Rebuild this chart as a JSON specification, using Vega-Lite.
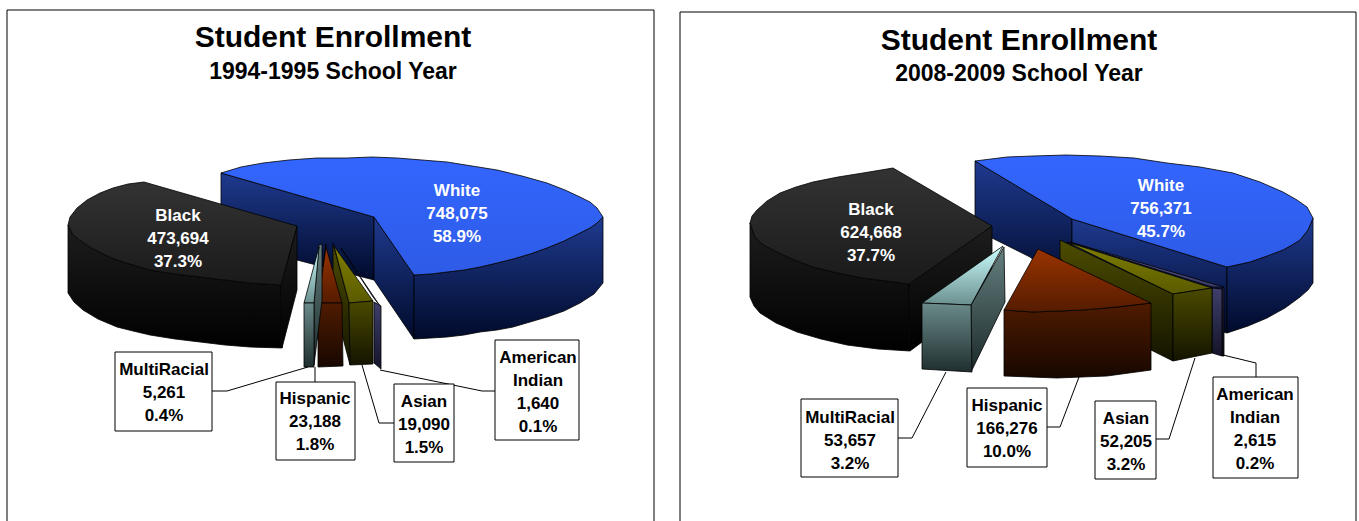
{"$schema":"https://vega.github.io/schema/vega-lite/v6.json","background":"white","padding":{"left":5,"top":8,"right":0,"bottom":0},"spacing":22,
"config":{"view":{"stroke":null},
"style":{
"shape":{"interpolate":"linear-closed","strokeWidth":0.8},
"whiteTop":{"fill":{"gradient":"linear","x1":0,"y1":0,"x2":0,"y2":1,"stops":[{"offset":0,"color":"#3366ff"},{"offset":1,"color":"#2e5be6"}]}},
"whiteSide":{"fill":{"gradient":"linear","x1":0,"y1":0,"x2":0,"y2":1,"stops":[{"offset":0,"color":"#1f3a8f"},{"offset":1,"color":"#000a2a"}]}},
"blackTop":{"fill":{"gradient":"linear","x1":0,"y1":0,"x2":0,"y2":1,"stops":[{"offset":0,"color":"#333333"},{"offset":1,"color":"#1a1a1a"}]}},
"blackSide":{"fill":{"gradient":"linear","x1":0,"y1":0,"x2":0,"y2":1,"stops":[{"offset":0,"color":"#1d1d1d"},{"offset":1,"color":"#000000"}]}},
"multiTop":{"fill":{"gradient":"linear","x1":0,"y1":0,"x2":0,"y2":1,"stops":[{"offset":0,"color":"#ccffff"},{"offset":1,"color":"#6b8f8f"}]}},
"multiSide":{"fill":{"gradient":"linear","x1":0,"y1":0,"x2":0,"y2":1,"stops":[{"offset":0,"color":"#668080"},{"offset":1,"color":"#1c2a2a"}]}},
"multiFront":{"fill":{"gradient":"linear","x1":0,"y1":0,"x2":0,"y2":1,"stops":[{"offset":0,"color":"#6b8a8a"},{"offset":1,"color":"#1f2e2e"}]}},
"hispanicTop":{"fill":{"gradient":"linear","x1":0,"y1":0,"x2":0,"y2":1,"stops":[{"offset":0,"color":"#993300"},{"offset":1,"color":"#551c00"}]}},
"hispanicBack":{"fill":{"gradient":"linear","x1":0,"y1":0,"x2":0,"y2":1,"stops":[{"offset":0,"color":"#4d1a00"},{"offset":1,"color":"#1a0800"}]}},
"hispanicFront":{"fill":{"gradient":"linear","x1":0,"y1":0,"x2":0,"y2":1,"stops":[{"offset":0,"color":"#4f1b00"},{"offset":1,"color":"#170700"}]}},
"asianTop":{"fill":{"gradient":"linear","x1":0,"y1":0,"x2":0,"y2":1,"stops":[{"offset":0,"color":"#808000"},{"offset":1,"color":"#5a5a00"}]}},
"asianSide":{"fill":{"gradient":"linear","x1":0,"y1":0,"x2":0,"y2":1,"stops":[{"offset":0,"color":"#4d4d00"},{"offset":1,"color":"#141400"}]}},
"asianFront":{"fill":{"gradient":"linear","x1":0,"y1":0,"x2":0,"y2":1,"stops":[{"offset":0,"color":"#4a4a00"},{"offset":1,"color":"#141400"}]}},
"indianTop":{"fill":{"gradient":"linear","x1":0,"y1":0,"x2":0,"y2":1,"stops":[{"offset":0,"color":"#5a5a99"},{"offset":1,"color":"#3a3a66"}]}},
"indianBack":{"fill":{"gradient":"linear","x1":0,"y1":0,"x2":0,"y2":1,"stops":[{"offset":0,"color":"#2a2a50"},{"offset":1,"color":"#10101f"}]}},
"indianFront":{"fill":{"gradient":"linear","x1":0,"y1":0,"x2":0,"y2":1,"stops":[{"offset":0,"color":"#3f3f6b"},{"offset":1,"color":"#14142a"}]}}
}},
"datasets":{
"labels":[
{"year":"1994-1995","race":"White","count":748075,"share":58.9,"placement":"pie","x":457,"y":190},
{"year":"1994-1995","race":"Black","count":473694,"share":37.3,"placement":"pie","x":178,"y":215},
{"year":"1994-1995","race":"MultiRacial","count":5261,"share":0.4,"placement":"callout","x":164,"y":369},
{"year":"1994-1995","race":"Hispanic","count":23188,"share":1.8,"placement":"callout","x":315,"y":398},
{"year":"1994-1995","race":"Asian","count":19090,"share":1.5,"placement":"callout","x":424,"y":401},
{"year":"1994-1995","race":"American Indian","count":1640,"share":0.1,"placement":"callout","x":538,"y":357},
{"year":"2008-2009","race":"White","count":756371,"share":45.7,"placement":"pie","x":1161,"y":185},
{"year":"2008-2009","race":"Black","count":624668,"share":37.7,"placement":"pie","x":871,"y":209},
{"year":"2008-2009","race":"MultiRacial","count":53657,"share":3.2,"placement":"callout","x":850,"y":417},
{"year":"2008-2009","race":"Hispanic","count":166276,"share":10.0,"placement":"callout","x":1007,"y":405},
{"year":"2008-2009","race":"Asian","count":52205,"share":3.2,"placement":"callout","x":1126,"y":418},
{"year":"2008-2009","race":"American Indian","count":2615,"share":0.2,"placement":"callout","x":1255,"y":394}],
"boxes":[
{"year":"1994-1995","race":"MultiRacial","x":115,"x2":212,"y":352,"y2":431},
{"year":"1994-1995","race":"Hispanic","x":276,"x2":355,"y":382,"y2":460},
{"year":"1994-1995","race":"Asian","x":394,"x2":454,"y":384,"y2":462},
{"year":"1994-1995","race":"American Indian","x":495,"x2":579,"y":340,"y2":440},
{"year":"2008-2009","race":"MultiRacial","x":801,"x2":898,"y":399,"y2":477},
{"year":"2008-2009","race":"Hispanic","x":967,"x2":1047,"y":388,"y2":467},
{"year":"2008-2009","race":"Asian","x":1095,"x2":1156,"y":401,"y2":479},
{"year":"2008-2009","race":"American Indian","x":1213,"x2":1298,"y":377,"y2":478}],
"titles":[
{"year":"1994-1995","text":"Student Enrollment","level":"title","x":333,"y":38},
{"year":"1994-1995","text":"1994-1995 School Year","level":"subtitle","x":333,"y":72},
{"year":"2008-2009","text":"Student Enrollment","level":"title","x":1019,"y":41},
{"year":"2008-2009","text":"2008-2009 School Year","level":"subtitle","x":1019,"y":74}],
"lines":[
{"year":"1994-1995","line":"frame","i":0,"x":7,"y":521},{"year":"1994-1995","line":"frame","i":1,"x":7,"y":10},{"year":"1994-1995","line":"frame","i":2,"x":654,"y":10},{"year":"1994-1995","line":"frame","i":3,"x":654,"y":521},
{"year":"1994-1995","line":"MultiRacial","i":0,"x":212,"y":391},{"year":"1994-1995","line":"MultiRacial","i":1,"x":227,"y":391},{"year":"1994-1995","line":"MultiRacial","i":2,"x":308,"y":367},
{"year":"1994-1995","line":"Hispanic","i":0,"x":315,"y":382},{"year":"1994-1995","line":"Hispanic","i":1,"x":315,"y":367},
{"year":"1994-1995","line":"Asian","i":0,"x":394,"y":423},{"year":"1994-1995","line":"Asian","i":1,"x":379,"y":423},{"year":"1994-1995","line":"Asian","i":2,"x":362,"y":365},
{"year":"1994-1995","line":"American Indian","i":0,"x":495,"y":391},{"year":"1994-1995","line":"American Indian","i":1,"x":482,"y":391},{"year":"1994-1995","line":"American Indian","i":2,"x":380,"y":370},
{"year":"2008-2009","line":"frame","i":0,"x":680,"y":521},{"year":"2008-2009","line":"frame","i":1,"x":680,"y":12},{"year":"2008-2009","line":"frame","i":2,"x":1356,"y":12},{"year":"2008-2009","line":"frame","i":3,"x":1356,"y":521},
{"year":"2008-2009","line":"MultiRacial","i":0,"x":898,"y":438},{"year":"2008-2009","line":"MultiRacial","i":1,"x":912,"y":438},{"year":"2008-2009","line":"MultiRacial","i":2,"x":946,"y":372},
{"year":"2008-2009","line":"Hispanic","i":0,"x":1047,"y":427},{"year":"2008-2009","line":"Hispanic","i":1,"x":1060,"y":427},{"year":"2008-2009","line":"Hispanic","i":2,"x":1079,"y":377},
{"year":"2008-2009","line":"Asian","i":0,"x":1156,"y":439},{"year":"2008-2009","line":"Asian","i":1,"x":1169,"y":439},{"year":"2008-2009","line":"Asian","i":2,"x":1195,"y":358},
{"year":"2008-2009","line":"American Indian","i":0,"x":1256,"y":377},{"year":"2008-2009","line":"American Indian","i":1,"x":1256,"y":363},{"year":"2008-2009","line":"American Indian","i":2,"x":1223,"y":355}],
"shapes1":[
{"piece":"w1","face":"White side","i":0,"x":221,"y":173},{"piece":"w1","face":"White side","i":1,"x":374,"y":217},{"piece":"w1","face":"White side","i":2,"x":374,"y":280},{"piece":"w1","face":"White side","i":3,"x":297,"y":260},{"piece":"w1","face":"White side","i":4,"x":221,"y":240},
{"piece":"w2","face":"White side","i":0,"x":374,"y":217},{"piece":"w2","face":"White side","i":1,"x":414,"y":275},{"piece":"w2","face":"White side","i":2,"x":414,"y":339},{"piece":"w2","face":"White side","i":3,"x":374,"y":280},
{"piece":"w3","face":"White side","i":0,"x":414,"y":275},{"piece":"w3","face":"White side","i":1,"x":447,"y":272},{"piece":"w3","face":"White side","i":2,"x":480,"y":267},{"piece":"w3","face":"White side","i":3,"x":513,"y":259},{"piece":"w3","face":"White side","i":4,"x":547,"y":248},{"piece":"w3","face":"White side","i":5,"x":580,"y":233},{"piece":"w3","face":"White side","i":6,"x":597,"y":223},{"piece":"w3","face":"White side","i":7,"x":603,"y":217},{"piece":"w3","face":"White side","i":8,"x":603,"y":283},{"piece":"w3","face":"White side","i":9,"x":580,"y":303},{"piece":"w3","face":"White side","i":10,"x":547,"y":317},{"piece":"w3","face":"White side","i":11,"x":513,"y":327},{"piece":"w3","face":"White side","i":12,"x":480,"y":332},{"piece":"w3","face":"White side","i":13,"x":447,"y":337},{"piece":"w3","face":"White side","i":14,"x":414,"y":339},
{"piece":"w3","face":"White side","i":0.5,"x":431,"y":274},{"piece":"w3","face":"White side","i":1.5,"x":464,"y":270},{"piece":"w3","face":"White side","i":2.5,"x":497,"y":263},{"piece":"w3","face":"White side","i":3.5,"x":530,"y":254},{"piece":"w3","face":"White side","i":4.5,"x":564,"y":241},{"piece":"w3","face":"White side","i":5.5,"x":590,"y":228},{"piece":"w3","face":"White side","i":8.5,"x":594,"y":294},{"piece":"w3","face":"White side","i":9.5,"x":564,"y":311},{"piece":"w3","face":"White side","i":10.5,"x":530,"y":322},{"piece":"w3","face":"White side","i":11.5,"x":497,"y":330},{"piece":"w3","face":"White side","i":12.5,"x":464,"y":335},{"piece":"w3","face":"White side","i":13.5,"x":431,"y":338},
{"piece":"w4","face":"White top","i":0,"x":221,"y":173},{"piece":"w4","face":"White top","i":1,"x":263,"y":163},{"piece":"w4","face":"White top","i":2,"x":317,"y":158},{"piece":"w4","face":"White top","i":3,"x":347,"y":158},{"piece":"w4","face":"White top","i":4,"x":397,"y":158},{"piece":"w4","face":"White top","i":5,"x":447,"y":162},{"piece":"w4","face":"White top","i":6,"x":497,"y":170},{"piece":"w4","face":"White top","i":7,"x":547,"y":183},{"piece":"w4","face":"White top","i":8,"x":580,"y":197},{"piece":"w4","face":"White top","i":9,"x":597,"y":208},{"piece":"w4","face":"White top","i":10,"x":603,"y":217},{"piece":"w4","face":"White top","i":11,"x":597,"y":223},{"piece":"w4","face":"White top","i":12,"x":580,"y":233},{"piece":"w4","face":"White top","i":13,"x":547,"y":248},{"piece":"w4","face":"White top","i":14,"x":513,"y":259},{"piece":"w4","face":"White top","i":15,"x":480,"y":267},{"piece":"w4","face":"White top","i":16,"x":447,"y":272},{"piece":"w4","face":"White top","i":17,"x":414,"y":275},{"piece":"w4","face":"White top","i":18,"x":374,"y":217},
{"piece":"w4","face":"White top","i":0.5,"x":241,"y":167},{"piece":"w4","face":"White top","i":1.5,"x":289,"y":160},{"piece":"w4","face":"White top","i":3.5,"x":372,"y":157},{"piece":"w4","face":"White top","i":4.5,"x":422,"y":160},{"piece":"w4","face":"White top","i":5.5,"x":472,"y":166},{"piece":"w4","face":"White top","i":6.5,"x":522,"y":176},{"piece":"w4","face":"White top","i":7.5,"x":565,"y":190},{"piece":"w4","face":"White top","i":8.5,"x":590,"y":202},{"piece":"w4","face":"White top","i":11.5,"x":590,"y":228},{"piece":"w4","face":"White top","i":12.5,"x":564,"y":241},{"piece":"w4","face":"White top","i":13.5,"x":530,"y":254},{"piece":"w4","face":"White top","i":14.5,"x":497,"y":263},{"piece":"w4","face":"White top","i":15.5,"x":464,"y":270},{"piece":"w4","face":"White top","i":16.5,"x":431,"y":274},
{"piece":"b1","face":"Black side","i":0,"x":281,"y":285},{"piece":"b1","face":"Black side","i":1,"x":250,"y":283},{"piece":"b1","face":"Black side","i":2,"x":200,"y":277},{"piece":"b1","face":"Black side","i":3,"x":150,"y":270},{"piece":"b1","face":"Black side","i":4,"x":117,"y":260},{"piece":"b1","face":"Black side","i":5,"x":90,"y":247},{"piece":"b1","face":"Black side","i":6,"x":73,"y":235},{"piece":"b1","face":"Black side","i":7,"x":68,"y":225},{"piece":"b1","face":"Black side","i":8,"x":68,"y":293},{"piece":"b1","face":"Black side","i":9,"x":83,"y":310},{"piece":"b1","face":"Black side","i":10,"x":117,"y":327},{"piece":"b1","face":"Black side","i":11,"x":150,"y":335},{"piece":"b1","face":"Black side","i":12,"x":200,"y":342},{"piece":"b1","face":"Black side","i":13,"x":250,"y":347},{"piece":"b1","face":"Black side","i":14,"x":282,"y":348},
{"piece":"b1","face":"Black side","i":1.5,"x":225,"y":280},{"piece":"b1","face":"Black side","i":2.5,"x":175,"y":274},{"piece":"b1","face":"Black side","i":3.5,"x":133,"y":265},{"piece":"b1","face":"Black side","i":4.5,"x":103,"y":254},{"piece":"b1","face":"Black side","i":5.5,"x":81,"y":241},{"piece":"b1","face":"Black side","i":8.5,"x":74,"y":302},{"piece":"b1","face":"Black side","i":9.5,"x":98,"y":319},{"piece":"b1","face":"Black side","i":10.5,"x":133,"y":331},{"piece":"b1","face":"Black side","i":11.5,"x":175,"y":339},{"piece":"b1","face":"Black side","i":12.5,"x":225,"y":345},
{"piece":"b2","face":"Black side","i":0,"x":297,"y":226},{"piece":"b2","face":"Black side","i":1,"x":281,"y":285},{"piece":"b2","face":"Black side","i":2,"x":282,"y":348},{"piece":"b2","face":"Black side","i":3,"x":297,"y":290},
{"piece":"b3","face":"Black top","i":0,"x":144,"y":182},{"piece":"b3","face":"Black top","i":1,"x":297,"y":226},{"piece":"b3","face":"Black top","i":2,"x":281,"y":285},{"piece":"b3","face":"Black top","i":3,"x":250,"y":283},{"piece":"b3","face":"Black top","i":4,"x":200,"y":277},{"piece":"b3","face":"Black top","i":5,"x":150,"y":270},{"piece":"b3","face":"Black top","i":6,"x":117,"y":260},{"piece":"b3","face":"Black top","i":7,"x":90,"y":247},{"piece":"b3","face":"Black top","i":8,"x":73,"y":235},{"piece":"b3","face":"Black top","i":9,"x":68,"y":225},{"piece":"b3","face":"Black top","i":10,"x":70,"y":217},{"piece":"b3","face":"Black top","i":11,"x":87,"y":200},{"piece":"b3","face":"Black top","i":12,"x":113,"y":188},
{"piece":"b3","face":"Black top","i":3.5,"x":225,"y":280},{"piece":"b3","face":"Black top","i":4.5,"x":175,"y":274},{"piece":"b3","face":"Black top","i":5.5,"x":133,"y":265},{"piece":"b3","face":"Black top","i":6.5,"x":103,"y":254},{"piece":"b3","face":"Black top","i":7.5,"x":81,"y":241},{"piece":"b3","face":"Black top","i":10.5,"x":77,"y":208},{"piece":"b3","face":"Black top","i":11.5,"x":100,"y":193},{"piece":"b3","face":"Black top","i":12.5,"x":128,"y":184},
{"piece":"a1","face":"American Indian top","i":0,"x":341,"y":248},{"piece":"a1","face":"American Indian top","i":1,"x":373,"y":297},{"piece":"a1","face":"American Indian top","i":2,"x":380,"y":306},
{"piece":"a2","face":"American Indian front","i":0,"x":374,"y":302},{"piece":"a2","face":"American Indian front","i":1,"x":381,"y":306},{"piece":"a2","face":"American Indian front","i":2,"x":381,"y":369},{"piece":"a2","face":"American Indian front","i":3,"x":374,"y":363},
{"piece":"s1","face":"Asian side","i":0,"x":333,"y":243},{"piece":"s1","face":"Asian side","i":1,"x":349,"y":303},{"piece":"s1","face":"Asian side","i":2,"x":350,"y":365},{"piece":"s1","face":"Asian side","i":3,"x":333,"y":300},
{"piece":"s2","face":"Asian top","i":0,"x":334,"y":246},{"piece":"s2","face":"Asian top","i":1,"x":349,"y":303},{"piece":"s2","face":"Asian top","i":2,"x":373,"y":301},
{"piece":"s3","face":"Asian front","i":0,"x":349,"y":303},{"piece":"s3","face":"Asian front","i":1,"x":373,"y":301},{"piece":"s3","face":"Asian front","i":2,"x":373,"y":364},{"piece":"s3","face":"Asian front","i":3,"x":350,"y":365},
{"piece":"h1","face":"Hispanic back","i":0,"x":326,"y":244},{"piece":"h1","face":"Hispanic back","i":1,"x":318,"y":303},{"piece":"h1","face":"Hispanic back","i":2,"x":318,"y":340},
{"piece":"h2","face":"Hispanic top","i":0,"x":326,"y":247},{"piece":"h2","face":"Hispanic top","i":1,"x":318,"y":303},{"piece":"h2","face":"Hispanic top","i":2,"x":342,"y":303},
{"piece":"h3","face":"Hispanic front","i":0,"x":318,"y":303},{"piece":"h3","face":"Hispanic front","i":1,"x":342,"y":303},{"piece":"h3","face":"Hispanic front","i":2,"x":343,"y":366},{"piece":"h3","face":"Hispanic front","i":3,"x":318,"y":367},
{"piece":"m1","face":"MultiRacial side","i":0,"x":319,"y":245},{"piece":"m1","face":"MultiRacial side","i":1,"x":322,"y":244},{"piece":"m1","face":"MultiRacial side","i":2,"x":322,"y":300},{"piece":"m1","face":"MultiRacial side","i":3,"x":314,"y":365},{"piece":"m1","face":"MultiRacial side","i":4,"x":314,"y":303},
{"piece":"m2","face":"MultiRacial top","i":0,"x":319,"y":247},{"piece":"m2","face":"MultiRacial top","i":1,"x":304,"y":303},{"piece":"m2","face":"MultiRacial top","i":2,"x":314,"y":303},
{"piece":"m3","face":"MultiRacial front","i":0,"x":304,"y":303},{"piece":"m3","face":"MultiRacial front","i":1,"x":314,"y":303},{"piece":"m3","face":"MultiRacial front","i":2,"x":314,"y":367},{"piece":"m3","face":"MultiRacial front","i":3,"x":304,"y":367}],
"shapes2":[
{"piece":"w1","face":"White side","i":0,"x":975,"y":161},{"piece":"w1","face":"White side","i":1,"x":1072,"y":219},{"piece":"w1","face":"White side","i":2,"x":1072,"y":290},{"piece":"w1","face":"White side","i":3,"x":1030,"y":257},{"piece":"w1","face":"White side","i":4,"x":992,"y":238},{"piece":"w1","face":"White side","i":5,"x":975,"y":218},
{"piece":"w2","face":"White side","i":0,"x":1072,"y":219},{"piece":"w2","face":"White side","i":1,"x":1227,"y":267},{"piece":"w2","face":"White side","i":2,"x":1227,"y":333},{"piece":"w2","face":"White side","i":3,"x":1072,"y":290},
{"piece":"w3","face":"White side","i":0,"x":1227,"y":267},{"piece":"w3","face":"White side","i":1,"x":1250,"y":262},{"piece":"w3","face":"White side","i":2,"x":1283,"y":250},{"piece":"w3","face":"White side","i":3,"x":1300,"y":240},{"piece":"w3","face":"White side","i":4,"x":1313,"y":218},{"piece":"w3","face":"White side","i":5,"x":1313,"y":283},{"piece":"w3","face":"White side","i":6,"x":1300,"y":297},{"piece":"w3","face":"White side","i":7,"x":1267,"y":318},{"piece":"w3","face":"White side","i":8,"x":1227,"y":333},
{"piece":"w3","face":"White side","i":1.5,"x":1267,"y":256},{"piece":"w3","face":"White side","i":2.5,"x":1292,"y":245},{"piece":"w3","face":"White side","i":3.5,"x":1308,"y":230},{"piece":"w3","face":"White side","i":5.5,"x":1308,"y":290},{"piece":"w3","face":"White side","i":6.5,"x":1285,"y":308},{"piece":"w3","face":"White side","i":7.5,"x":1248,"y":326},
{"piece":"w4","face":"White top","i":0,"x":975,"y":161},{"piece":"w4","face":"White top","i":1,"x":1007,"y":157},{"piece":"w4","face":"White top","i":2,"x":1033,"y":156},{"piece":"w4","face":"White top","i":3,"x":1100,"y":156},{"piece":"w4","face":"White top","i":4,"x":1167,"y":163},{"piece":"w4","face":"White top","i":5,"x":1233,"y":173},{"piece":"w4","face":"White top","i":6,"x":1283,"y":192},{"piece":"w4","face":"White top","i":7,"x":1307,"y":207},{"piece":"w4","face":"White top","i":8,"x":1313,"y":218},{"piece":"w4","face":"White top","i":9,"x":1300,"y":240},{"piece":"w4","face":"White top","i":10,"x":1283,"y":250},{"piece":"w4","face":"White top","i":11,"x":1250,"y":262},{"piece":"w4","face":"White top","i":12,"x":1227,"y":267},{"piece":"w4","face":"White top","i":13,"x":1072,"y":219},
{"piece":"w4","face":"White top","i":2.5,"x":1066,"y":155},{"piece":"w4","face":"White top","i":3.5,"x":1134,"y":158},{"piece":"w4","face":"White top","i":4.5,"x":1200,"y":167},{"piece":"w4","face":"White top","i":5.5,"x":1260,"y":182},{"piece":"w4","face":"White top","i":6.5,"x":1297,"y":200},{"piece":"w4","face":"White top","i":8.5,"x":1308,"y":230},{"piece":"w4","face":"White top","i":9.5,"x":1292,"y":245},{"piece":"w4","face":"White top","i":10.5,"x":1267,"y":256},
{"piece":"b1","face":"Black side","i":0,"x":909,"y":284},{"piece":"b1","face":"Black side","i":1,"x":863,"y":278},{"piece":"b1","face":"Black side","i":2,"x":813,"y":267},{"piece":"b1","face":"Black side","i":3,"x":773,"y":250},{"piece":"b1","face":"Black side","i":4,"x":755,"y":237},{"piece":"b1","face":"Black side","i":5,"x":750,"y":223},{"piece":"b1","face":"Black side","i":6,"x":750,"y":297},{"piece":"b1","face":"Black side","i":7,"x":760,"y":313},{"piece":"b1","face":"Black side","i":8,"x":797,"y":332},{"piece":"b1","face":"Black side","i":9,"x":847,"y":345},{"piece":"b1","face":"Black side","i":10,"x":910,"y":351},
{"piece":"b1","face":"Black side","i":0.5,"x":886,"y":281},{"piece":"b1","face":"Black side","i":1.5,"x":838,"y":273},{"piece":"b1","face":"Black side","i":2.5,"x":792,"y":259},{"piece":"b1","face":"Black side","i":3.5,"x":762,"y":244},{"piece":"b1","face":"Black side","i":6.5,"x":754,"y":306},{"piece":"b1","face":"Black side","i":7.5,"x":776,"y":323},{"piece":"b1","face":"Black side","i":8.5,"x":821,"y":339},{"piece":"b1","face":"Black side","i":9.5,"x":878,"y":349},
{"piece":"b2","face":"Black side","i":0,"x":992,"y":226},{"piece":"b2","face":"Black side","i":1,"x":909,"y":284},{"piece":"b2","face":"Black side","i":2,"x":910,"y":351},{"piece":"b2","face":"Black side","i":3,"x":992,"y":290},
{"piece":"b3","face":"Black top","i":0,"x":893,"y":168},{"piece":"b3","face":"Black top","i":1,"x":992,"y":226},{"piece":"b3","face":"Black top","i":2,"x":909,"y":284},{"piece":"b3","face":"Black top","i":3,"x":863,"y":278},{"piece":"b3","face":"Black top","i":4,"x":813,"y":267},{"piece":"b3","face":"Black top","i":5,"x":773,"y":250},{"piece":"b3","face":"Black top","i":6,"x":755,"y":237},{"piece":"b3","face":"Black top","i":7,"x":750,"y":223},{"piece":"b3","face":"Black top","i":8,"x":757,"y":210},{"piece":"b3","face":"Black top","i":9,"x":780,"y":193},{"piece":"b3","face":"Black top","i":10,"x":813,"y":182},{"piece":"b3","face":"Black top","i":11,"x":863,"y":173},
{"piece":"b3","face":"Black top","i":2.5,"x":886,"y":281},{"piece":"b3","face":"Black top","i":3.5,"x":838,"y":273},{"piece":"b3","face":"Black top","i":4.5,"x":792,"y":259},{"piece":"b3","face":"Black top","i":5.5,"x":762,"y":244},{"piece":"b3","face":"Black top","i":7.5,"x":752,"y":216},{"piece":"b3","face":"Black top","i":8.5,"x":767,"y":201},{"piece":"b3","face":"Black top","i":9.5,"x":796,"y":187},{"piece":"b3","face":"Black top","i":10.5,"x":838,"y":177},
{"piece":"a1","face":"American Indian top","i":0,"x":1070,"y":242},{"piece":"a1","face":"American Indian top","i":1,"x":1212,"y":287},{"piece":"a1","face":"American Indian top","i":2,"x":1224,"y":287},
{"piece":"a2","face":"American Indian back","i":0,"x":1222,"y":289},{"piece":"a2","face":"American Indian back","i":1,"x":1224,"y":287},{"piece":"a2","face":"American Indian back","i":2,"x":1224,"y":356},{"piece":"a2","face":"American Indian back","i":3,"x":1222,"y":356},
{"piece":"a3","face":"American Indian front","i":0,"x":1212,"y":288},{"piece":"a3","face":"American Indian front","i":1,"x":1222,"y":289},{"piece":"a3","face":"American Indian front","i":2,"x":1222,"y":356},{"piece":"a3","face":"American Indian front","i":3,"x":1212,"y":353},
{"piece":"s1","face":"Asian side","i":0,"x":1060,"y":240},{"piece":"s1","face":"Asian side","i":1,"x":1173,"y":294},{"piece":"s1","face":"Asian side","i":2,"x":1173,"y":361},{"piece":"s1","face":"Asian side","i":3,"x":1151,"y":350},{"piece":"s1","face":"Asian side","i":4,"x":1060,"y":258},
{"piece":"s2","face":"Asian top","i":0,"x":1067,"y":242},{"piece":"s2","face":"Asian top","i":1,"x":1173,"y":294},{"piece":"s2","face":"Asian top","i":2,"x":1212,"y":288},
{"piece":"s3","face":"Asian front","i":0,"x":1173,"y":294},{"piece":"s3","face":"Asian front","i":1,"x":1212,"y":288},{"piece":"s3","face":"Asian front","i":2,"x":1212,"y":353},{"piece":"s3","face":"Asian front","i":3,"x":1173,"y":361},
{"piece":"h1","face":"Hispanic front","i":0,"x":1004,"y":310},{"piece":"h1","face":"Hispanic front","i":1,"x":1033,"y":312},{"piece":"h1","face":"Hispanic front","i":2,"x":1083,"y":310},{"piece":"h1","face":"Hispanic front","i":3,"x":1117,"y":307},{"piece":"h1","face":"Hispanic front","i":4,"x":1151,"y":303},{"piece":"h1","face":"Hispanic front","i":5,"x":1151,"y":370},{"piece":"h1","face":"Hispanic front","i":6,"x":1107,"y":376},{"piece":"h1","face":"Hispanic front","i":7,"x":1057,"y":378},{"piece":"h1","face":"Hispanic front","i":8,"x":1004,"y":376},
{"piece":"h2","face":"Hispanic top","i":0,"x":1038,"y":249},{"piece":"h2","face":"Hispanic top","i":1,"x":1151,"y":303},{"piece":"h2","face":"Hispanic top","i":2,"x":1117,"y":307},{"piece":"h2","face":"Hispanic top","i":3,"x":1083,"y":310},{"piece":"h2","face":"Hispanic top","i":4,"x":1033,"y":312},{"piece":"h2","face":"Hispanic top","i":5,"x":1004,"y":310},
{"piece":"m1","face":"MultiRacial side","i":0,"x":1004,"y":247},{"piece":"m1","face":"MultiRacial side","i":1,"x":971,"y":305},{"piece":"m1","face":"MultiRacial side","i":2,"x":971,"y":372},{"piece":"m1","face":"MultiRacial side","i":3,"x":1005,"y":302},
{"piece":"m2","face":"MultiRacial top","i":0,"x":1003,"y":246},{"piece":"m2","face":"MultiRacial top","i":1,"x":922,"y":303},{"piece":"m2","face":"MultiRacial top","i":2,"x":971,"y":305},
{"piece":"m3","face":"MultiRacial front","i":0,"x":922,"y":303},{"piece":"m3","face":"MultiRacial front","i":1,"x":971,"y":305},{"piece":"m3","face":"MultiRacial front","i":2,"x":972,"y":372},{"piece":"m3","face":"MultiRacial front","i":3,"x":922,"y":369}]
},
"hconcat":[
{"width":647,"height":511,
"encoding":{"x":{"field":"x","type":"quantitative","scale":{"domain":[7,654]},"axis":null},"y":{"field":"y","type":"quantitative","scale":{"domain":[521,10]},"axis":null},"detail":{"field":"piece"},"order":{"field":"i","type":"quantitative"}},
"layer":[
{"data":{"name":"shapes1"},"transform":[{"filter":"datum.face==='White side'"}],"mark":{"type":"line","stroke":"#000000","style":["shape","whiteSide"]}},
{"data":{"name":"shapes1"},"transform":[{"filter":"datum.face==='White top'"}],"mark":{"type":"line","stroke":"#000000","style":["shape","whiteTop"]}},
{"data":{"name":"shapes1"},"transform":[{"filter":"datum.face==='Black side'"}],"mark":{"type":"line","stroke":"#000000","style":["shape","blackSide"]}},
{"data":{"name":"shapes1"},"transform":[{"filter":"datum.face==='Black top'"}],"mark":{"type":"line","stroke":"#000000","style":["shape","blackTop"]}},
{"data":{"name":"shapes1"},"transform":[{"filter":"datum.face==='American Indian top'"}],"mark":{"type":"line","stroke":"#000000","style":["shape","indianTop"]}},
{"data":{"name":"shapes1"},"transform":[{"filter":"datum.face==='American Indian front'"}],"mark":{"type":"line","stroke":"#000000","style":["shape","indianFront"]}},
{"data":{"name":"shapes1"},"transform":[{"filter":"datum.face==='Asian side'"}],"mark":{"type":"line","stroke":"#000000","style":["shape","asianSide"]}},
{"data":{"name":"shapes1"},"transform":[{"filter":"datum.face==='Asian top'"}],"mark":{"type":"line","stroke":"#000000","style":["shape","asianTop"]}},
{"data":{"name":"shapes1"},"transform":[{"filter":"datum.face==='Asian front'"}],"mark":{"type":"line","stroke":"#000000","style":["shape","asianFront"]}},
{"data":{"name":"shapes1"},"transform":[{"filter":"datum.face==='Hispanic back'"}],"mark":{"type":"line","stroke":"#000000","style":["shape","hispanicBack"]}},
{"data":{"name":"shapes1"},"transform":[{"filter":"datum.face==='Hispanic top'"}],"mark":{"type":"line","stroke":"#000000","style":["shape","hispanicTop"]}},
{"data":{"name":"shapes1"},"transform":[{"filter":"datum.face==='Hispanic front'"}],"mark":{"type":"line","stroke":"#000000","style":["shape","hispanicFront"]}},
{"data":{"name":"shapes1"},"transform":[{"filter":"datum.face==='MultiRacial side'"}],"mark":{"type":"line","stroke":"#000000","style":["shape","multiSide"]}},
{"data":{"name":"shapes1"},"transform":[{"filter":"datum.face==='MultiRacial top'"}],"mark":{"type":"line","stroke":"#000000","style":["shape","multiTop"]}},
{"data":{"name":"shapes1"},"transform":[{"filter":"datum.face==='MultiRacial front'"}],"mark":{"type":"line","stroke":"#000000","style":["shape","multiFront"]}},
{"data":{"name":"lines"},"transform":[{"filter":"datum.year==='1994-1995'"}],"mark":{"type":"line","stroke":"#000000","strokeWidth":1},"encoding":{"detail":{"field":"line"}}},
{"data":{"name":"boxes"},"transform":[{"filter":"datum.year==='1994-1995'"}],"mark":{"type":"rect","fill":"#ffffff","stroke":"#000000","strokeWidth":1},"encoding":{"x2":{"field":"x2"},"y2":{"field":"y2"},"detail":null,"order":null}},
{"data":{"name":"titles"},"transform":[{"filter":"datum.year==='1994-1995'"}],"mark":{"type":"text","font":"Liberation Sans","fontWeight":"bold","align":"center","baseline":"middle","color":"#000000"},"encoding":{"detail":null,"order":null,"text":{"field":"text"},"size":{"field":"level","type":"nominal","legend":null,"scale":{"domain":["title","subtitle"],"range":[30,23]}}}},
{"data":{"name":"labels"},"transform":[{"filter":"datum.year==='1994-1995'"},{"calculate":"replace(datum.race,' ','\\n')+'\\n'+format(datum.count,',')+'\\n'+format(datum.share,'.1f')+'%'","as":"display"}],"mark":{"type":"text","font":"Liberation Sans","fontWeight":"bold","fontSize":17,"align":"center","baseline":"middle","lineBreak":"\n","lineHeight":23,"dy":1},"encoding":{"detail":null,"order":null,"text":{"field":"display"},"color":{"field":"placement","type":"nominal","legend":null,"scale":{"domain":["pie","callout"],"range":["#ffffff","#000000"]}}}}
]},
{"width":676,"height":511,
"encoding":{"x":{"field":"x","type":"quantitative","scale":{"domain":[680,1356]},"axis":null},"y":{"field":"y","type":"quantitative","scale":{"domain":[521,10]},"axis":null},"detail":{"field":"piece"},"order":{"field":"i","type":"quantitative"}},
"layer":[
{"data":{"name":"shapes2"},"transform":[{"filter":"datum.face==='White side'"}],"mark":{"type":"line","stroke":"#000000","style":["shape","whiteSide"]}},
{"data":{"name":"shapes2"},"transform":[{"filter":"datum.face==='White top'"}],"mark":{"type":"line","stroke":"#000000","style":["shape","whiteTop"]}},
{"data":{"name":"shapes2"},"transform":[{"filter":"datum.face==='Black side'"}],"mark":{"type":"line","stroke":"#000000","style":["shape","blackSide"]}},
{"data":{"name":"shapes2"},"transform":[{"filter":"datum.face==='Black top'"}],"mark":{"type":"line","stroke":"#000000","style":["shape","blackTop"]}},
{"data":{"name":"shapes2"},"transform":[{"filter":"datum.face==='American Indian top'"}],"mark":{"type":"line","stroke":"#000000","style":["shape","indianTop"]}},
{"data":{"name":"shapes2"},"transform":[{"filter":"datum.face==='American Indian back'"}],"mark":{"type":"line","stroke":"#000000","style":["shape","indianBack"]}},
{"data":{"name":"shapes2"},"transform":[{"filter":"datum.face==='American Indian front'"}],"mark":{"type":"line","stroke":"#000000","style":["shape","indianFront"]}},
{"data":{"name":"shapes2"},"transform":[{"filter":"datum.face==='Asian side'"}],"mark":{"type":"line","stroke":"#000000","style":["shape","asianSide"]}},
{"data":{"name":"shapes2"},"transform":[{"filter":"datum.face==='Asian top'"}],"mark":{"type":"line","stroke":"#000000","style":["shape","asianTop"]}},
{"data":{"name":"shapes2"},"transform":[{"filter":"datum.face==='Asian front'"}],"mark":{"type":"line","stroke":"#000000","style":["shape","asianFront"]}},
{"data":{"name":"shapes2"},"transform":[{"filter":"datum.face==='Hispanic front'"}],"mark":{"type":"line","stroke":"#000000","style":["shape","hispanicFront"]}},
{"data":{"name":"shapes2"},"transform":[{"filter":"datum.face==='Hispanic top'"}],"mark":{"type":"line","stroke":"#000000","style":["shape","hispanicTop"]}},
{"data":{"name":"shapes2"},"transform":[{"filter":"datum.face==='MultiRacial side'"}],"mark":{"type":"line","stroke":"#000000","style":["shape","multiSide"]}},
{"data":{"name":"shapes2"},"transform":[{"filter":"datum.face==='MultiRacial top'"}],"mark":{"type":"line","stroke":"#000000","style":["shape","multiTop"]}},
{"data":{"name":"shapes2"},"transform":[{"filter":"datum.face==='MultiRacial front'"}],"mark":{"type":"line","stroke":"#000000","style":["shape","multiFront"]}},
{"data":{"name":"lines"},"transform":[{"filter":"datum.year==='2008-2009'"}],"mark":{"type":"line","stroke":"#000000","strokeWidth":1},"encoding":{"detail":{"field":"line"}}},
{"data":{"name":"boxes"},"transform":[{"filter":"datum.year==='2008-2009'"}],"mark":{"type":"rect","fill":"#ffffff","stroke":"#000000","strokeWidth":1},"encoding":{"x2":{"field":"x2"},"y2":{"field":"y2"},"detail":null,"order":null}},
{"data":{"name":"titles"},"transform":[{"filter":"datum.year==='2008-2009'"}],"mark":{"type":"text","font":"Liberation Sans","fontWeight":"bold","align":"center","baseline":"middle","color":"#000000"},"encoding":{"detail":null,"order":null,"text":{"field":"text"},"size":{"field":"level","type":"nominal","legend":null,"scale":{"domain":["title","subtitle"],"range":[30,23]}}}},
{"data":{"name":"labels"},"transform":[{"filter":"datum.year==='2008-2009'"},{"calculate":"replace(datum.race,' ','\\n')+'\\n'+format(datum.count,',')+'\\n'+format(datum.share,'.1f')+'%'","as":"display"}],"mark":{"type":"text","font":"Liberation Sans","fontWeight":"bold","fontSize":17,"align":"center","baseline":"middle","lineBreak":"\n","lineHeight":23,"dy":1},"encoding":{"detail":null,"order":null,"text":{"field":"display"},"color":{"field":"placement","type":"nominal","legend":null,"scale":{"domain":["pie","callout"],"range":["#ffffff","#000000"]}}}}
]}
]}
